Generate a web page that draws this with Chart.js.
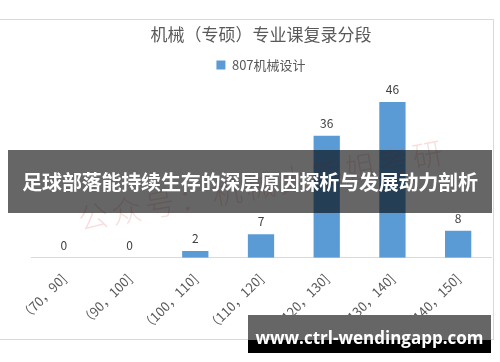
<!DOCTYPE html>
<html>
<head>
<meta charset="utf-8">
<script src="https://cdn.jsdelivr.net/npm/chart.js@4"></script>
<style>
  html, body { margin: 0; padding: 0; background: #fff; }
  #wrap { position: relative; width: 500px; height: 362px; overflow: hidden; }
  #frame { position: absolute; left: 0; top: 19px; width: 493px; height: 319px; border: 1px solid #d9d9d9; border-left: none; }
  #myChart { position: absolute; left: 0; top: 0; }
  #mark { position: absolute; left: 74px; top: 196px; font: 300 30px "Noto Sans CJK SC"; color: rgba(225, 90, 90, 0.2);
          transform: rotate(-10.5deg); transform-origin: left top; white-space: nowrap; letter-spacing: 4px; }
  #banner { position: absolute; left: 8px; top: 150px; width: 484px; height: 63px; background: rgba(0,0,0,0.6);
            color: #fff; font: bold 20px "Noto Sans CJK SC"; line-height: 63px; text-align: center; white-space: nowrap; letter-spacing: -0.2px; }
  #site { position: absolute; left: 248px; top: 315px; width: 243px; height: 38px; background: #000; }
  #site .top { position: absolute; left: 0; top: 0; width: 243px; height: 25px; background: #666; }
  #site .txt { position: absolute; left: 0; top: 0; width: 243px; height: 46px; text-align: center;
               color: #fff; font: bold 17px "Open Sans"; line-height: 46px; }
</style>
</head>
<body>
<div id="wrap">
  <div id="frame"></div>
  <canvas id="myChart" width="500" height="362"></canvas>
  <div id="mark">公众号：机械大熊姐考研</div>
  <div id="banner">足球部落能持续生存的深层原因探析与发展动力剖析</div>
  <div id="site"><div class="top"></div><div class="txt">www.ctrl-wendingapp.com</div></div>
</div>
<script>
const ctx = document.getElementById('myChart');
var labels = ['（70，90]', '（90，100]', '（100，110]', '（110，120]', '（120，130]', '（130，140]', '（140，150]'];
var counts = [0, 0, 2, 7, 36, 46, 8];
var seriesName = '807机械设计';
var chartTitle = '机械（专硕）专业课复录分段';

// numbers over the bars
const valueLabels = {
    id: 'valueLabels',
    afterDatasetsDraw(chart) {
        const c = chart.ctx;
        const meta = chart.getDatasetMeta(0);
        c.save();
        c.fillStyle = '#404040';
        c.font = '12px "Noto Sans CJK SC"';
        c.textAlign = 'center';
        c.textBaseline = 'middle';
        meta.data.forEach((bar, i) => {
            c.fillText(counts[i], bar.x, bar.y - 12.5);
        });
        c.restore();
    }
};

// a bit more room under the legend
const legendGap = {
    id: 'legendGap',
    beforeInit(chart) {
        const fit = chart.legend.fit;
        chart.legend.fit = function () {
            fit.bind(chart.legend)();
            this.height += 7;
        };
    }
};

new Chart(ctx, {
    type: 'bar',
    data: {
        labels: labels,
        datasets: [{
            label: seriesName,
            data: counts,
            backgroundColor: '#5b9bd5',
            borderWidth: 0,
            barPercentage: 0.4,
            categoryPercentage: 1
        }]
    },
    options: {
        responsive: false,
        animation: false,
        layout: { padding: { top: 24, left: 31, right: 9, bottom: 23 } },
        plugins: {
            title: {
                display: true,
                text: chartTitle,
                color: '#595959',
                font: { size: 17, family: '"Noto Sans CJK SC"', weight: 'normal' },
                padding: { top: 0, bottom: 6 }
            },
            legend: {
                position: 'top',
                labels: {
                    color: '#595959',
                    font: { size: 13, family: '"Noto Sans CJK SC"' },
                    boxWidth: 9,
                    boxHeight: 9,
                    padding: 8
                }
            },
            tooltip: { enabled: false }
        },
        scales: {
            y: {
                display: false,
                min: 0,
                max: 50
            },
            x: {
                grid: { display: false },
                border: { color: '#d9d9d9' },
                ticks: {
                    color: '#595959',
                    font: { size: 13, family: '"Noto Sans CJK SC"' },
                    minRotation: 45,
                    maxRotation: 45,
                    padding: 5
                }
            }
        }
    },
    plugins: [valueLabels, legendGap]
});
</script>
</body>
</html>
